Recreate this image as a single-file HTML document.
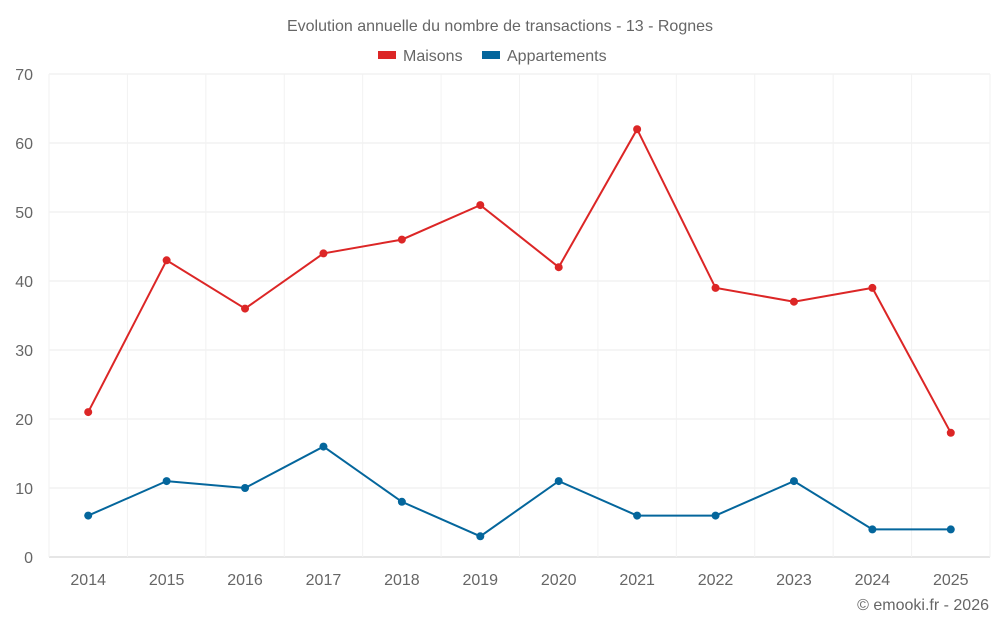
<!DOCTYPE html>
<html><head><meta charset="utf-8"><style>
body{margin:0;background:#fff;font-family:"Liberation Sans",sans-serif}
svg text{font-family:"Liberation Sans",sans-serif;fill:#666}
</style></head><body>
<svg id="c" width="1000" height="625">
<text x="500" y="31" text-anchor="middle" font-size="16">Evolution annuelle du nombre de transactions - 13 - Rognes</text>
<g>
<g><rect x="378" y="51" width="18" height="8" fill="#dc2626"/><text x="403" y="61" font-size="16">Maisons</text></g>
<g><rect x="482" y="51" width="18" height="8" fill="#04669c"/><text x="507" y="61" font-size="16">Appartements</text></g>
</g>
<g id="grid"></g><g id="axes"></g><g id="series"></g>
<text x="989" y="610" text-anchor="end" font-size="16">© emooki.fr - 2026</text>
</svg>
<script>
const categories=["2014","2015","2016","2017","2018","2019","2020","2021","2022","2023","2024","2025"];
const maisons=[21,43,36,44,46,51,42,62,39,37,39,18];
const appartements=[6,11,10,16,8,3,11,6,6,11,4,4];
const yTicks=[0,10,20,30,40,50,60,70];
const L=49,R=990,T=74,B=557,ymax=70;
const bw=(R-L)/categories.length;
const x=i=>L+bw*(i+0.5);
const y=v=>B-(v/ymax)*(B-T);
const ns="http://www.w3.org/2000/svg";
function mk(t,a,p){const e=document.createElementNS(ns,t);for(const k in a)e.setAttribute(k,a[k]);p.appendChild(e);return e;}
const g=document.getElementById('grid'),ax=document.getElementById('axes'),s=document.getElementById('series');
yTicks.forEach(v=>{
const l=mk('line',{x1:L,x2:R,y1:y(v),y2:y(v),stroke:v===0?'#ccc':'#ebebeb'},g);


const t=mk('text',{x:33,y:y(v)+6,'text-anchor':'end','font-size':16},ax);t.textContent=v;


});
for(let i=0;i<=categories.length;i++){
const l=mk('line',{x1:L+bw*i,x2:L+bw*i,y1:T,y2:B,stroke:'#f2f2f2'},g);


}
categories.forEach((c,i)=>{
const t=mk('text',{x:x(i),y:585,'text-anchor':'middle','font-size':16},ax);t.textContent=c;


});
function draw(data,color,name){
const p=mk('polyline',{points:data.map((v,i)=>x(i)+','+y(v)).join(' '),fill:'none',stroke:color,'stroke-width':2},s);


data.forEach((v,i)=>{
const c=mk('circle',{cx:x(i),cy:y(v),r:4,fill:color},s);


});
}
draw(maisons,'#dc2626','maisons');
draw(appartements,'#04669c','appartements');
</script>
</body></html>
